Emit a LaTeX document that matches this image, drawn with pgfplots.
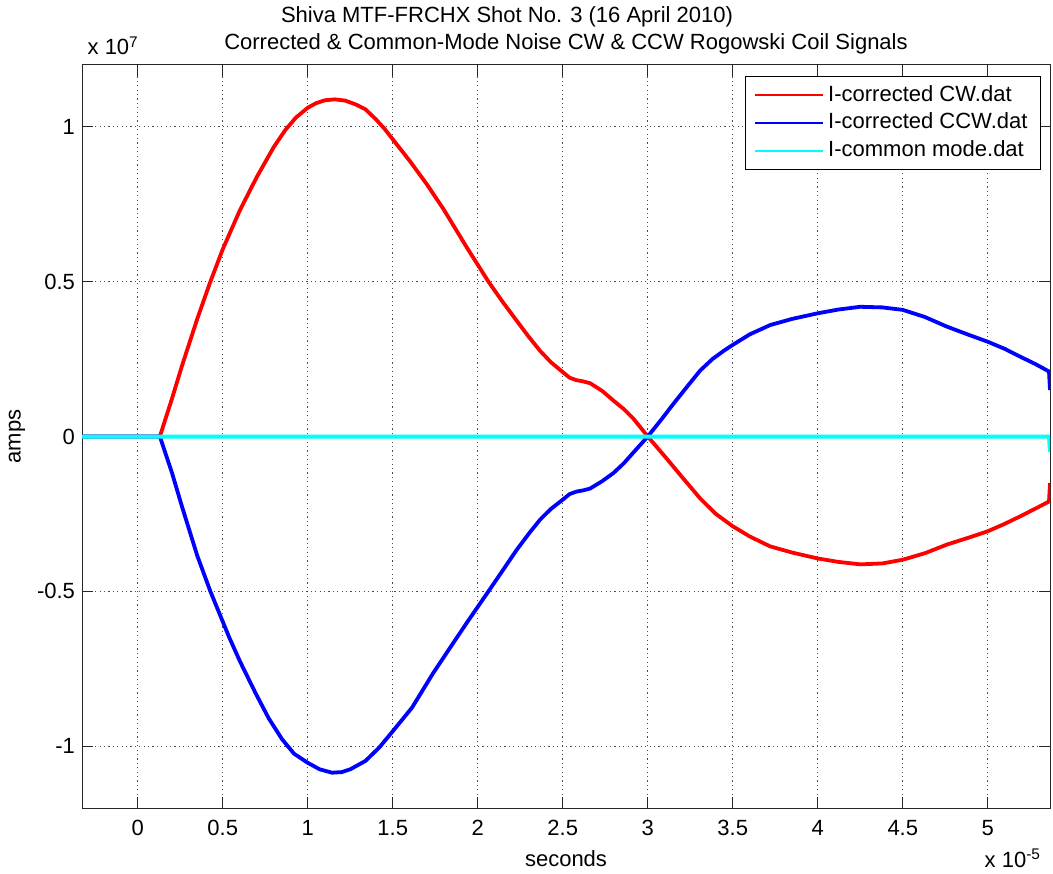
\documentclass[border=0pt]{standalone}
\usepackage{fontspec}
\setmainfont{Liberation Sans}
\usepackage{pgfplots}
\pgfplotsset{compat=1.18}
\definecolor{mred}{rgb}{1,0,0}
\definecolor{mblue}{rgb}{0,0,1}
\definecolor{mcyan}{rgb}{0,1,1}
\pgfplotstableread{
x y
-0.328 0
0.13 0
0.2 0.12
0.26 0.228
0.35 0.38
0.427 0.5
0.5 0.605
0.6 0.73
0.7 0.838
0.8 0.935
0.868 0.99
0.93 1.03
1.0 1.062
1.05 1.077
1.1 1.086
1.16 1.089
1.22 1.085
1.28 1.073
1.339 1.057
1.4 1.025
1.45 0.995
1.5 0.96
1.6 0.89
1.7 0.815
1.8 0.733
1.935 0.611
2.063 0.5
2.15 0.432
2.229 0.374
2.3 0.322
2.366 0.277
2.43 0.24
2.5 0.208
2.54 0.19
2.58 0.182
2.62 0.178
2.661 0.172
2.73 0.148
2.798 0.116
2.86 0.088
2.915 0.058
3.0 0
3.112 -0.072
3.2 -0.13
3.308 -0.2
3.4 -0.25
3.5 -0.29
3.6 -0.323
3.72 -0.355
3.85 -0.375
4.0 -0.394
4.12 -0.405
4.25 -0.413
4.38 -0.41
4.5 -0.398
4.63 -0.377
4.76 -0.349
4.88 -0.328
5.0 -0.306
5.1 -0.282
5.19 -0.258
5.28 -0.233
5.36 -0.21
5.366 -0.15
}\cw
\pgfplotstableread{
x y
-0.328 0
0.13 0
0.2 -0.115
0.26 -0.226
0.35 -0.385
0.427 -0.5
0.535 -0.645
0.6 -0.725
0.692 -0.828
0.77 -0.91
0.849 -0.978
0.92 -1.025
1.0 -1.054
1.07 -1.075
1.143 -1.086
1.2 -1.084
1.25 -1.075
1.339 -1.048
1.42 -1.005
1.5 -0.952
1.613 -0.876
1.739 -0.763
1.84 -0.68
1.935 -0.602
2.063 -0.5
2.15 -0.43
2.229 -0.366
2.3 -0.314
2.366 -0.269
2.43 -0.234
2.5 -0.204
2.54 -0.186
2.58 -0.178
2.62 -0.174
2.661 -0.168
2.73 -0.145
2.798 -0.118
2.86 -0.086
2.915 -0.052
3.0 0
3.08 0.055
3.15 0.105
3.23 0.16
3.308 0.213
3.38 0.25
3.45 0.278
3.5 0.296
3.6 0.33
3.72 0.36
3.85 0.38
4.0 0.398
4.12 0.41
4.249 0.419
4.38 0.417
4.5 0.409
4.63 0.386
4.759 0.355
4.88 0.33
5.0 0.306
5.1 0.283
5.19 0.258
5.28 0.234
5.36 0.21
5.366 0.15
}\ccw
\pgfplotstableread{
x y
-0.328 0
1.0 0
2.0 0
3.0 0
4.0 0
5.36 0
5.366 -0.05
}\cm
\begin{document}
\begin{tikzpicture}[font=\fontsize{11}{13}\selectfont]
\path[use as bounding box] (0,0) rectangle (526.5pt,436.5pt);
\begin{axis}[
  at={(41pt,32.5pt)}, anchor=south west,
  width=484pt, height=371.5pt, scale only axis,
  xmin=-0.328, xmax=5.366, ymin=-1.2, ymax=1.2,
  xtick={0,0.5,1,1.5,2,2.5,3,3.5,4,4.5,5},
  xticklabels={0,0.5,1,1.5,2,2.5,3,3.5,4,4.5,5},
  ytick={-1,-0.5,0,0.5,1},
  yticklabels={-1,-0.5,0,0.5,1},
  tick align=inside, major tick length=5.5pt,
  tick style={black!85, line width=0.5pt},
  axis line style={black!85, line width=0.5pt},
  grid=major,
  grid style={black!70, line width=0.5pt, dash pattern=on 0.6pt off 1.6pt},
  xticklabel style={anchor=base, yshift=-13.5pt},
  yticklabel style={anchor=east},
  xlabel={seconds},
  xlabel style={at={(rel axis cs:0.5,0)}, anchor=base, yshift=-29pt},
  ylabel={amps},
  ylabel style={at={(rel axis cs:0,0.5)}, anchor=center, yshift=32.5pt},
  legend cell align=left,
  legend style={draw=black, line width=0.5pt, fill=white,
    at={(rel axis cs:1,1)}, anchor=north east, xshift=-4.5pt, yshift=-5.5pt,
    inner xsep=4.5pt, inner ysep=2.5pt, row sep=0pt,
    nodes={inner xsep=2pt, inner ysep=1.5pt, text height=8.3pt, text depth=2.6pt},
    font=\fontsize{11}{13}\selectfont},
  legend image code/.code={\draw[#1, line width=0.9pt] (0pt,0pt) -- (34pt,0pt);},
  clip mode=individual,
]
\addplot[mred, line width=1.9pt, line join=round] table[x=x,y=y] {\cw};
\addlegendentry{I-corrected CW.dat}
\addplot[mblue, line width=1.9pt, line join=round] table[x=x,y=y] {\ccw};
\addlegendentry{I-corrected CCW.dat}
\addplot[mcyan, line width=2pt] table[x=x,y=y] {\cm};
\addlegendentry{I-common mode.dat}
\node[anchor=base west, xshift=-0.7pt, yshift=5pt] at (rel axis cs:0,1) {x 10\textsuperscript{7}};
\node[anchor=base east, xshift=-1pt, yshift=-29.5pt] at (rel axis cs:1,0) {x 10\textsuperscript{-5}};
\node[anchor=base, yshift=7.5pt] at (rel axis cs:0.5,1) {Corrected \& Common-Mode Noise CW \& CCW Rogowski Coil Signals};
\node[anchor=base, xshift=-29.5pt, yshift=21pt] at (rel axis cs:0.5,1) {Shiva MTF-FRCHX Shot No. 3 (16 April 2010)};
\end{axis}
\end{tikzpicture}
\end{document}
